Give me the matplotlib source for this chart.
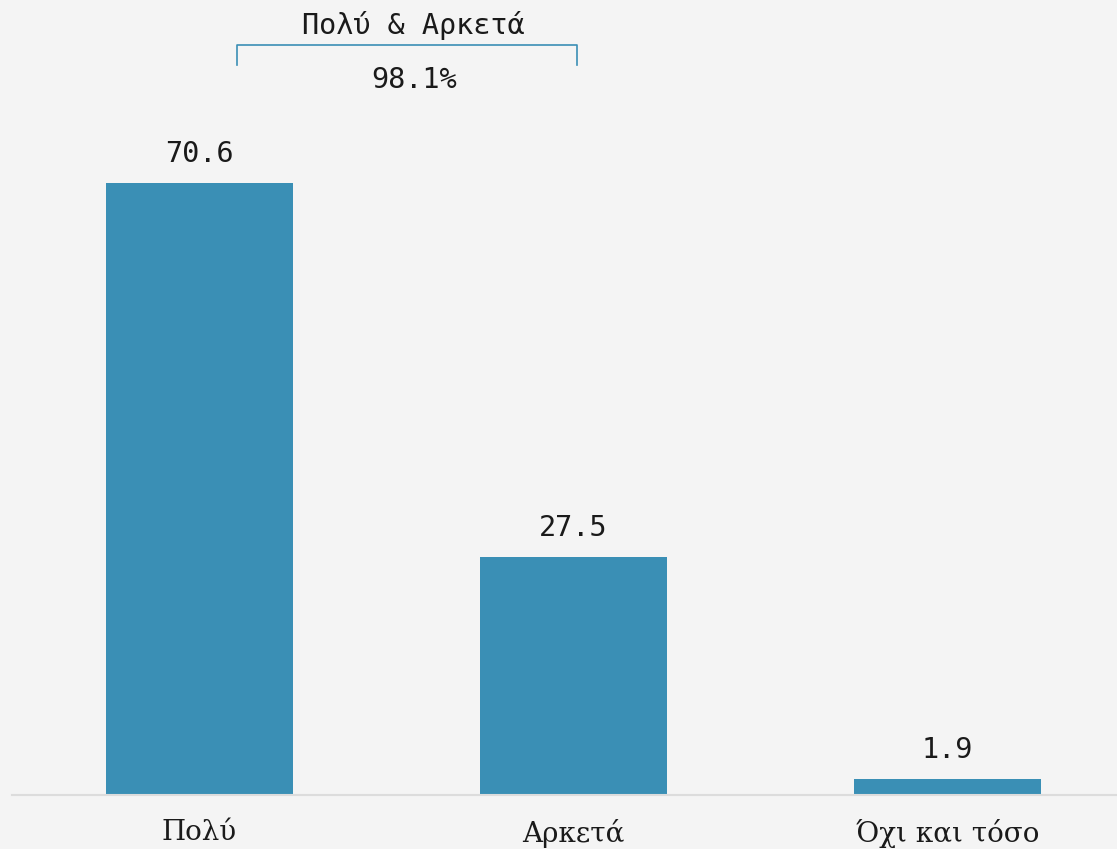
import matplotlib.pyplot as plt

categories = ['Πολύ', 'Αρκετά', 'Όχι και τόσο']
values = [70.6, 27.5, 1.9]
group_label = 'Πολύ & Αρκετά'
group_total = '98.1%'

bg = '#f4f4f4'
bar_color = '#3a8fb5'

fig = plt.figure(figsize=(11.17, 8.49), dpi=100, facecolor=bg)
ax = fig.add_axes([12 / 1117, 54 / 849, 1 - 12 / 1117, 795 / 849])
ax.set_facecolor(bg)

x = list(range(len(categories)))
ax.bar(x, values, width=0.5, color=bar_color, zorder=2)

for xi, v in zip(x, values):
    ax.text(xi, v + 1.7, f'{v:.1f}', ha='center', va='bottom',
            family='DejaVu Sans Mono', fontsize=20.5, color='#1a1a1a')

ax.set_xlim(-0.501, 2.453)
ax.set_ylim(0, 91.7)

# bracket grouping the first two bars
bx0, bx1 = 0.1, 1.01
ax.plot([bx0, bx0, bx1, bx1], [84.2, 86.5, 86.5, 84.2], color=bar_color,
        lw=1.2, clip_on=False, zorder=3)
ax.text(0.573, 88.8, group_label, ha='center', va='center',
        family='DejaVu Sans Mono', fontsize=20.5, color='#1a1a1a')
ax.text(0.573, 82.5, group_total, ha='center', va='center',
        family='DejaVu Sans Mono', fontsize=20.5, color='#1a1a1a')

ax.set_xticks(x)
ax.set_xticklabels(categories, family='DejaVu Serif', fontsize=20, color='#1a1a1a')
ax.tick_params(axis='x', length=0, pad=17)
ax.set_yticks([])

for s in ['top', 'right', 'left']:
    ax.spines[s].set_visible(False)
ax.spines['bottom'].set_color('#dcdcdc')
ax.spines['bottom'].set_linewidth(1.5)

fig.savefig('out.png', dpi=100, facecolor=bg)
plt.close()
